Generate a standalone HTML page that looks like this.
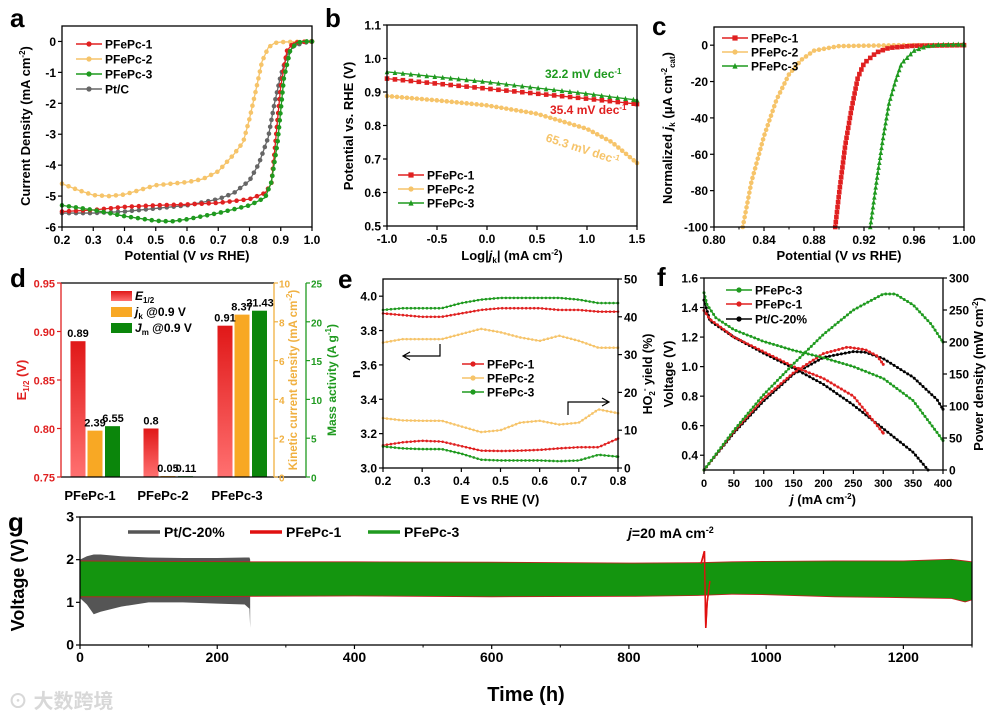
<!DOCTYPE html>
<html><head><meta charset="utf-8">
<style>
html,body{margin:0;padding:0;background:#fff;}
svg{display:block;font-family:"Liberation Sans","Noto Sans CJK SC",sans-serif;font-weight:bold;}
</style></head>
<body>
<svg id="fig" width="995" height="719" viewBox="0 0 995 719" xmlns="http://www.w3.org/2000/svg"></svg>
<script>
// ---------- DATA ----------
const aX1=[0.2,0.3,0.4,0.5,0.6,0.7,0.8,0.85,0.87,0.88,0.89,0.9,0.92,0.94,0.96,1.0];
const aY1=[-5.5,-5.45,-5.35,-5.3,-5.27,-5.22,-5.1,-4.9,-4.6,-3.6,-2.5,-1.45,-0.3,-0.05,-0.02,0];
const aX2=[0.2,0.25,0.3,0.35,0.4,0.45,0.5,0.6,0.65,0.7,0.75,0.78,0.8,0.82,0.84,0.86,0.88,0.9,1.0];
const aY2=[-4.6,-4.8,-4.97,-5.0,-4.95,-4.8,-4.65,-4.55,-4.45,-4.2,-3.65,-3.25,-2.5,-1.6,-0.65,-0.2,-0.05,-0.02,0];
const aX3=[0.2,0.3,0.4,0.5,0.55,0.6,0.7,0.8,0.85,0.87,0.89,0.91,0.93,0.95,0.97,1.0];
const aY3=[-5.3,-5.45,-5.65,-5.8,-5.82,-5.75,-5.55,-5.3,-5.05,-4.55,-3.25,-1.2,-0.3,-0.05,0,0];
const aX4=[0.2,0.3,0.4,0.5,0.6,0.7,0.75,0.8,0.83,0.86,0.88,0.9,0.92,0.94,0.97,1.0];
const aY4=[-5.55,-5.55,-5.5,-5.4,-5.3,-5.1,-4.9,-4.5,-3.95,-3.1,-2.0,-1.1,-0.45,-0.15,-0.05,0];
const bX=[-1.0,-0.5,0.0,0.5,1.0,1.25,1.5];
const bY1=[0.94,0.925,0.91,0.895,0.88,0.872,0.864];
const bY2=[0.888,0.875,0.86,0.835,0.79,0.75,0.688];
const bY3=[0.96,0.945,0.93,0.912,0.895,0.885,0.876];
const cX1=[0.897,0.9,0.905,0.91,0.915,0.92,0.93,0.94,0.96,1.0];
const cY1=[-100,-82,-55,-35,-18,-10,-4,-1.5,-0.3,0];
const cX2=[0.823,0.83,0.84,0.85,0.86,0.87,0.88,0.9,0.95,1.0];
const cY2=[-100,-75,-50,-30,-16,-8,-3,-0.5,0,0];
const cX3=[0.925,0.93,0.935,0.94,0.945,0.95,0.96,0.97,0.98,1.0];
const cY3=[-100,-75,-52,-32,-20,-10,-3,-0.5,0.3,0.5];
const dCats=["PFePc-1","PFePc-2","PFePc-3"];
const dE=[0.89,0.80,0.906];
const dEl=["0.89","0.8","0.91"];
const dJk=[2.39,0.05,8.37];
const dJkl=["2.39","0.05","8.37"];
const dJm=[6.55,0.11,21.43];
const dJml=["6.55","0.11","21.43"];
const eX=[0.2,0.25,0.3,0.35,0.4,0.45,0.5,0.55,0.6,0.65,0.7,0.75,0.8];
const eN1=[3.90,3.89,3.88,3.88,3.90,3.92,3.93,3.93,3.93,3.92,3.92,3.91,3.91];
const eN2=[3.73,3.75,3.75,3.75,3.78,3.81,3.79,3.76,3.74,3.77,3.74,3.70,3.70];
const eN3=[3.92,3.93,3.93,3.93,3.96,3.98,3.99,3.99,3.99,3.99,3.98,3.96,3.96];
const eH1=[6,6.8,7.2,7,5.8,4.6,4.5,4.6,4.8,5.2,5.5,5.5,7.8];
const eH2=[13.2,12.6,12.5,12.5,11,9.5,10,12,12.5,11.5,12,15.5,14.5];
const eH3=[5.7,5.2,5,5,3.8,2.2,2,2,2,1.8,2,3.5,3];
const fX3=[0,5,20,50,100,150,200,250,300,350,400];
const fV3=[1.5,1.42,1.33,1.25,1.17,1.11,1.06,1.0,0.92,0.77,0.5];
const fX1=[0,10,50,100,150,200,250,300];
const fV1=[1.38,1.32,1.2,1.1,1.0,0.92,0.8,0.55];
const fXp=[0,10,50,100,150,200,250,300,350,375];
const fVp=[1.45,1.31,1.2,1.09,0.99,0.88,0.74,0.58,0.42,0.3];
const fPX3=[0,50,100,150,200,250,300,320,350,380,400];
const fP3=[0,62,118,166,212,250,275,275,258,228,200];
const fPX1=[0,50,100,150,200,240,270,290,300];
const fP1=[0,60,112,152,182,192,188,178,165];
const fPXp=[0,50,100,150,200,250,270,300,350,390,400];
const fPp=[0,58,108,150,176,185,184,174,145,110,95];
const gPtT=[0,10,20,30,60,100,150,200,240,247,248];
const gPtHi=[2.0,2.08,2.12,2.12,2.08,2.05,2.04,2.04,2.05,2.05,2.0];
const gPtLo=[1.1,0.95,0.72,0.78,0.9,1.0,1.0,0.97,0.95,0.85,0.4];
const gGT=[0,100,250,400,600,800,900,950,1000,1100,1200,1270,1290,1300];
const gGHi=[1.98,1.97,1.96,1.96,1.95,1.93,1.94,1.96,1.97,1.98,1.98,2.02,1.98,1.96];
const gGLo=[1.12,1.12,1.13,1.14,1.12,1.13,1.15,1.18,1.17,1.12,1.1,1.08,1.0,1.05];
const gRspikeT=[905,910,912,914,918];
const gRspikeV=[1.9,2.2,0.4,1.0,1.5];

// ---------- HELPERS ----------
const NS="http://www.w3.org/2000/svg";
const svg=document.getElementById('fig');
function mk(tag,attrs,parent){const e=document.createElementNS(NS,tag);for(const k in attrs)e.setAttribute(k,attrs[k]);(parent||svg).appendChild(e);return e;}
function sc(d0,d1,p0,p1){return v=>p0+(v-d0)/(d1-d0)*(p1-p0);}
function txt(x,y,s,o,name){o=o||{};const t=mk('text',{x:x,y:y,'font-size':o.fs||12,'text-anchor':o.a||'middle',fill:o.c||'#000'});
 if(o.rot)t.setAttribute('transform','rotate(-90 '+x+' '+y+')');
 if(o.it)t.setAttribute('font-style','italic');
 t.innerHTML=s;
 
 
 return t;}
function frame(L,R,T,B,name){const g=mk('rect',{x:L,y:T,width:R-L,height:B-T,fill:'none',stroke:'#000','stroke-width':1.3});
 
 }
function xTicks(xs,vals,labels,B,T,name,fs,minor){vals.forEach((v,i)=>{const x=xs(v);
 const l=mk('line',{x1:x,x2:x,y1:B,y2:B+4,stroke:'#000','stroke-width':1.2});
 
 
 txt(x,B+17,labels[i],{fs:fs||12},name+'-tick-label');});
 if(minor)minor.forEach(v=>{const x=xs(v);const l=mk('line',{x1:x,x2:x,y1:B,y2:B+2.5,stroke:'#000','stroke-width':1});
 
 });}
function yTicks(ys,vals,labels,X,dir,name,col,fs,off){off=off||6;vals.forEach((v,i)=>{const y=ys(v);
 const l=mk('line',{x1:X,x2:X+dir*4,y1:y,y2:y,stroke:col||'#000','stroke-width':1.2});
 
 
 txt(dir<0?X-off:X+off,y+4.5,labels[i],{fs:fs||12,a:dir<0?'end':'start',c:col||'#000'},name+'-tick-label');});}
function marker(x,y,shape,col,r,name){let m;
 if(shape==='sq')m=mk('rect',{x:x-r,y:y-r,width:2*r,height:2*r,fill:col});
 else if(shape==='tri')m=mk('polygon',{points:(x)+','+(y-r-0.5)+' '+(x-r)+','+(y+r)+' '+(x+r)+','+(y+r),fill:col});
 else m=mk('circle',{cx:x,cy:y,r:r,fill:col});
 
 }
function series(xs,ys,X,Y,col,shape,name,w,step,r){const pts=X.map((v,i)=>[xs(v),ys(Y[i])]);
 const p=mk('polyline',{points:pts.map(p=>p.join(',')).join(' '),fill:'none',stroke:col,'stroke-width':w||1.3});
 
 
 if(!shape)return;
 let acc=0;step=step||7;
 for(let i=0;i<pts.length-1;i++){const [x0,y0]=pts[i],[x1,y1]=pts[i+1];const L=Math.hypot(x1-x0,y1-y0);
  let t=acc;while(t<L){marker(x0+(x1-x0)*t/L,y0+(y1-y0)*t/L,shape,col,r||2.3,name+'-marker');t+=step;}acc=t-L;}
 marker(pts[pts.length-1][0],pts[pts.length-1][1],shape,col,r||2.3,name+'-marker');}
function legendItem(x,y,col,shape,label,name,len){len=len||26;const l=mk('line',{x1:x,x2:x+len,y1:y,y2:y,stroke:col,'stroke-width':1.5});
 
 
 if(shape)marker(x+len/2,y,shape,col,2.6,name+'-swatch-marker');
 txt(x+len+3,y+4.5,label,{a:'start',fs:12},name+'-label');}
function panelLetter(x,y,s){txt(x,y,s,{fs:26,a:'start'},'panel-label-'+s);}
const RED='#e02020',YEL='#f6c46a',GRN='#1f9a1f',GRY='#666666';

// ---------- PANEL a ----------
(function(){const L=62,R=312,T=26,B=227;const xs=sc(0.2,1.0,L,R),ys=sc(-6,0.5,B,T);
 series(xs,ys,aX2,aY2,YEL,'circ','a-pfepc2');
 series(xs,ys,aX4,aY4,GRY,'circ','a-ptc');
 series(xs,ys,aX1,aY1,RED,'circ','a-pfepc1');
 series(xs,ys,aX3,aY3,GRN,'circ','a-pfepc3');
 frame(L,R,T,B,'a-plot-frame');
 xTicks(xs,[0.2,0.3,0.4,0.5,0.6,0.7,0.8,0.9,1.0],["0.2","0.3","0.4","0.5","0.6","0.7","0.8","0.9","1.0"],B,T,'a-x');
 yTicks(ys,[0,-1,-2,-3,-4,-5,-6],["0","-1","-2","-3","-4","-5","-6"],L,-1,'a-y');
 txt(187,260,'Potential (V <tspan font-style="italic">vs</tspan> RHE)',{fs:13},'a-x-axis-title');
 txt(30,126,'Current Density (mA cm<tspan dy="-5" font-size="8">-2</tspan><tspan dy="5">)</tspan>',{fs:13,rot:1},'a-y-axis-title');
 legendItem(76,44,RED,'circ','PFePc-1','a-legend-pfepc1');
 legendItem(76,59,YEL,'circ','PFePc-2','a-legend-pfepc2');
 legendItem(76,74,GRN,'circ','PFePc-3','a-legend-pfepc3');
 legendItem(76,89,GRY,'circ','Pt/C','a-legend-ptc');
 panelLetter(10,27,'a');})();

// ---------- PANEL b ----------
(function(){const L=387,R=637,T=25,B=226;const xs=sc(-1,1.5,L,R),ys=sc(0.5,1.1,B,T);
 series(xs,ys,bX,bY2,YEL,'circ','b-pfepc2',1.3,5);
 series(xs,ys,bX,bY1,RED,'sq','b-pfepc1',1.3,8);
 series(xs,ys,bX,bY3,GRN,'tri','b-pfepc3',1.3,8);
 frame(L,R,T,B,'b-plot-frame');
 xTicks(xs,[-1,-0.5,0,0.5,1,1.5],["-1.0","-0.5","0.0","0.5","1.0","1.5"],B,T,'b-x');
 yTicks(ys,[0.5,0.6,0.7,0.8,0.9,1.0,1.1],["0.5","0.6","0.7","0.8","0.9","1.0","1.1"],L,-1,'b-y');
 txt(512,260,'Log|<tspan font-style="italic">j</tspan><tspan dy="3" font-size="8">k</tspan><tspan dy="-3">| (mA cm</tspan><tspan dy="-5" font-size="8">-2</tspan><tspan dy="5">)</tspan>',{fs:13},'b-x-axis-title');
 txt(353,126,'Potential vs. RHE (V)',{fs:13,rot:1},'b-y-axis-title');
 txt(545,78,'32.2 mV dec<tspan dy="-4" font-size="8">-1</tspan>',{fs:12,a:'start',c:GRN},'b-tafel-pfepc3');
 txt(550,114,'35.4 mV dec<tspan dy="-4" font-size="8">-1</tspan>',{fs:12,a:'start',c:RED},'b-tafel-pfepc1');
 const t=txt(545,141,'65.3 mV dec<tspan dy="-4" font-size="8">-1</tspan>',{fs:12,a:'start',c:YEL},'b-tafel-pfepc2');t.setAttribute('transform','rotate(18 545 141)');
 legendItem(398,175,RED,'sq','PFePc-1','b-legend-pfepc1');
 legendItem(398,189,YEL,'circ','PFePc-2','b-legend-pfepc2');
 legendItem(398,203,GRN,'tri','PFePc-3','b-legend-pfepc3');
 panelLetter(325,27,'b');})();

// ---------- PANEL c ----------
(function(){const L=714,R=964,T=27,B=227;const xs=sc(0.8,1.0,L,R),ys=sc(-100,10,B,T);
 series(xs,ys,cX2,cY2,YEL,'circ','c-pfepc2',1.3,5);
 series(xs,ys,cX1,cY1,RED,'sq','c-pfepc1',1.3,5);
 series(xs,ys,cX3,cY3,GRN,'tri','c-pfepc3',1.3,5);
 frame(L,R,T,B,'c-plot-frame');
 xTicks(xs,[0.8,0.84,0.88,0.92,0.96,1.0],["0.80","0.84","0.88","0.92","0.96","1.00"],B,T,'c-x',12,[0.82,0.86,0.9,0.94,0.98]);
 yTicks(ys,[0,-20,-40,-60,-80,-100],["0","-20","-40","-60","-80","-100"],L,-1,'c-y');
 txt(839,260,'Potential (V <tspan font-style="italic">vs</tspan> RHE)',{fs:13},'c-x-axis-title');
 txt(672,128,'Normalized <tspan font-style="italic">j</tspan><tspan dy="3" font-size="8">k</tspan><tspan dy="-3"> (μA cm</tspan><tspan dy="-5" font-size="8">-2</tspan><tspan dy="8" font-size="8">cat</tspan><tspan dy="-3">)</tspan>',{fs:13,rot:1},'c-y-axis-title');
 legendItem(722,38,RED,'sq','PFePc-1','c-legend-pfepc1');
 legendItem(722,52,YEL,'circ','PFePc-2','c-legend-pfepc2');
 legendItem(722,66,GRN,'tri','PFePc-3','c-legend-pfepc3');
 panelLetter(652,35,'c');})();

// ---------- PANEL d ----------
(function(){const L=61,R=274,T=283,B=477,G=306;const yE=sc(0.75,0.95,B,T),yK=sc(0,10,B,T),yM=sc(0,25,B,T);
 const defs=mk('defs',{});
 const lg=mk('linearGradient',{id:'redg',x1:0,y1:0,x2:0,y2:1},defs);
 mk('stop',{offset:'0','stop-color':'#e01818'},lg);mk('stop',{offset:'1','stop-color':'#ff7070'},lg);
 const cx=[90,163,237];const bw=15;
 dCats.forEach((c,i)=>{const x=cx[i];
  const b1=mk('rect',{x:x-19.5,y:yE(dE[i]),width:bw,height:B-yE(dE[i]),fill:'url(#redg)'});
  
  const b2=mk('rect',{x:x-2.5,y:yK(dJk[i]),width:bw,height:B-yK(dJk[i]),fill:'#f8a824'});
  
  const b3=mk('rect',{x:x+15,y:yM(dJm[i]),width:bw,height:B-yM(dJm[i]),fill:'#0b860b'});
  
  txt(x-12,yE(dE[i])-4,dEl[i],{fs:11},'value-e12-'+c);
  txt(x+5,yK(dJk[i])-4,dJkl[i],{fs:11},'value-jk-'+c);
  txt(x+23,yM(dJm[i])-4,dJml[i],{fs:11},'value-jm-'+c);
  txt(x,500,c,{fs:13},'d-category-'+c);});
 const ln=(x1,y1,x2,y2,c,n)=>{const l=mk('line',{x1,y1,x2,y2,stroke:c,'stroke-width':1.3});};
 ln(L,T,R,T,'#000','d-top-axis');ln(L,B,G,B,'#000','d-bottom-axis');
 ln(L,T,L,B,RED,'d-left-axis');ln(R,T,R,B,'#f0b040','d-right-axis-jk');ln(G,T,G,B,GRN,'d-right-axis-jm');
 yTicks(yE,[0.75,0.8,0.85,0.9,0.95],["0.75","0.80","0.85","0.90","0.95"],L,-1,'d-y-e12',RED,11);
 yTicks(yK,[0,2,4,6,8,10],["0","2","4","6","8","10"],R,1,'d-y-jk','#f0b040',10,5);
 yTicks(yM,[0,5,10,15,20,25],["0","5","10","15","20","25"],G,1,'d-y-jm',GRN,10,5);
 txt(26,380,'E<tspan dy="3" font-size="8">1/2</tspan><tspan dy="-3"> (V)</tspan>',{fs:13,rot:1,c:RED},'d-y-axis-title-e12');
 txt(297,380,'Kinetic current density (mA cm<tspan dy="-5" font-size="8">-2</tspan><tspan dy="5">)</tspan>',{fs:11.5,rot:1,c:'#f0b040'},'d-y-axis-title-jk');
 txt(336,380,'Mass activity (A g<tspan dy="-5" font-size="8">-1</tspan><tspan dy="5">)</tspan>',{fs:12,rot:1,c:GRN},'d-y-axis-title-jm');
 const lgd=[['url(#redg)','<tspan font-style="italic">E</tspan><tspan dy="3" font-size="8">1/2</tspan>','e12'],['#f8a824','<tspan font-style="italic">j</tspan><tspan dy="3" font-size="8">k</tspan><tspan dy="-3"> @0.9 V</tspan>','jk'],['#0b860b','<tspan font-style="italic">J</tspan><tspan dy="3" font-size="8">m</tspan><tspan dy="-3"> @0.9 V</tspan>','jm']];
 lgd.forEach((d,i)=>{const r=mk('rect',{x:111,y:291+i*16,width:21,height:10,fill:d[0]});
  
  txt(135,300+i*16,d[1],{fs:12,a:'start'},'d-legend-'+d[2]+'-label');});
 panelLetter(10,287,'d');})();

// ---------- PANEL e ----------
(function(){const L=383,R=618,T=279,B=468;const xs=sc(0.2,0.8,L,R),ys=sc(3.0,4.1,B,T),yr=sc(0,50,B,T);
 series(xs,ys,eX,eN2,YEL,'circ','e-n-pfepc2',1.2,4,1.3);
 series(xs,ys,eX,eN1,RED,'circ','e-n-pfepc1',1.2,4,1.3);
 series(xs,ys,eX,eN3,GRN,'circ','e-n-pfepc3',1.2,4,1.3);
 series(xs,yr,eX,eH2,YEL,'circ','e-yield-pfepc2',1.2,4,1.3);
 series(xs,yr,eX,eH1,RED,'circ','e-yield-pfepc1',1.2,4,1.3);
 series(xs,yr,eX,eH3,GRN,'circ','e-yield-pfepc3',1.2,4,1.3);
 frame(L,R,T,B,'e-plot-frame');
 xTicks(xs,[0.2,0.3,0.4,0.5,0.6,0.7,0.8],["0.2","0.3","0.4","0.5","0.6","0.7","0.8"],B,T,'e-x');
 yTicks(ys,[3.0,3.2,3.4,3.6,3.8,4.0],["3.0","3.2","3.4","3.6","3.8","4.0"],L,-1,'e-y');
 yTicks(yr,[0,10,20,30,40,50],["0","10","20","30","40","50"],R,1,'e-y-right');
 txt(500,504,'E vs RHE (V)',{fs:13},'e-x-axis-title');
 txt(360,374,'n',{fs:13,rot:1},'e-y-axis-title');
 txt(652,374,'HO<tspan dy="3" font-size="8">2</tspan><tspan dy="-8" font-size="8">-</tspan><tspan dy="5"> yield (%)</tspan>',{fs:12.5,rot:1},'e-y-right-axis-title');
 const arr=(d,n)=>{const p=mk('path',{d:d,fill:'none',stroke:'#000','stroke-width':1.2});};
 arr('M440,344 L440,356 L404,356 M410,352 L403,356 L410,360','e-arrow-left');
 arr('M568,415 L568,402 L608,402 M602,398 L609,402 L602,406','e-arrow-right');
 legendItem(462,364,RED,'circ','PFePc-1','e-legend-pfepc1',22);
 legendItem(462,378,YEL,'circ','PFePc-2','e-legend-pfepc2',22);
 legendItem(462,392,GRN,'circ','PFePc-3','e-legend-pfepc3',22);
 panelLetter(338,288,'e');})();

// ---------- PANEL f ----------
(function(){const L=704,R=943,T=278,B=470;const xs=sc(0,400,L,R),ys=sc(0.3,1.6,B,T),yr=sc(0,300,B,T);
 series(xs,ys,fXp,fVp,'#000','circ','f-v-ptc',1.2,4,1.5);
 series(xs,yr,fPXp,fPp,'#000','circ','f-p-ptc',1.2,4,1.5);
 series(xs,ys,fX1,fV1,RED,'circ','f-v-pfepc1',1.2,4,1.5);
 series(xs,yr,fPX1,fP1,RED,'circ','f-p-pfepc1',1.2,4,1.5);
 series(xs,ys,fX3,fV3,GRN,'circ','f-v-pfepc3',1.2,4,1.5);
 series(xs,yr,fPX3,fP3,GRN,'circ','f-p-pfepc3',1.2,4,1.5);
 frame(L,R,T,B,'f-plot-frame');
 xTicks(xs,[0,50,100,150,200,250,300,350,400],["0","50","100","150","200","250","300","350","400"],B,T,'f-x',11);
 yTicks(ys,[0.4,0.6,0.8,1.0,1.2,1.4,1.6],["0.4","0.6","0.8","1.0","1.2","1.4","1.6"],L,-1,'f-y');
 yTicks(yr,[0,50,100,150,200,250,300],["0","50","100","150","200","250","300"],R,1,'f-y-right');
 txt(823,504,'<tspan font-style="italic">j</tspan> (mA cm<tspan dy="-5" font-size="8">-2</tspan><tspan dy="5">)</tspan>',{fs:13},'f-x-axis-title');
 txt(673,374,'Voltage (V)',{fs:13,rot:1},'f-y-axis-title');
 txt(983,374,'Power density (mW cm<tspan dy="-5" font-size="8">-2</tspan><tspan dy="5">)</tspan>',{fs:13,rot:1},'f-y-right-axis-title');
 legendItem(726,290,GRN,'circ','PFePc-3','f-legend-pfepc3');
 legendItem(726,304,RED,'circ','PFePc-1','f-legend-pfepc1');
 legendItem(726,319,'#000','circ','Pt/C-20%','f-legend-ptc');
 panelLetter(657,286,'f');})();

// ---------- PANEL g ----------
(function(){const L=80,R=972,T=517,B=645;const xs=sc(0,1300,L,R),ys=sc(0,3,B,T);
 const band=(X,Hi,Lo,col,n)=>{const pts=X.map((v,i)=>xs(v)+','+ys(Hi[i])).concat(X.slice().reverse().map((v,j)=>xs(v)+','+ys(Lo[X.length-1-j])));
  const p=mk('polygon',{points:pts.join(' '),fill:col});};
 band(gPtT,gPtHi,gPtLo,'#555555','g-band-ptc');
 band(gGT,gGHi,gGLo,'#c02020','g-band-pfepc1');
 const sp=mk('polyline',{points:gRspikeT.map((v,i)=>xs(v)+','+ys(gRspikeV[i])).join(' '),fill:'none',stroke:'#e01010','stroke-width':1.6});
 
 const gg=gGT.map((v,i)=>xs(v)+','+ys(gGHi[i]-0.02));const gl=gGT.slice().reverse().map((v,j)=>xs(v)+','+ys(gGLo[gGT.length-1-j]+0.02));
 const gp=mk('polygon',{points:gg.concat(gl).join(' '),fill:'#14950f'});
 const sp2=mk('polyline',{points:gRspikeT.map((v,i)=>xs(v)+','+ys(gRspikeV[i])).join(' '),fill:'none',stroke:'#e01010','stroke-width':1.4});
 
 frame(L,R,T,B,'g-plot-frame');
 xTicks(xs,[0,200,400,600,800,1000,1200],["0","200","400","600","800","1000","1200"],B,T,'g-x',14,[100,300,500,700,900,1100,1300]);
 yTicks(ys,[0,1,2,3],["0","1","2","3"],L,-1,'g-y',null,14);
 txt(526,701,'Time (h)',{fs:20},'g-x-axis-title');
 txt(24,585,'Voltage (V)',{fs:18,rot:1},'g-y-axis-title');
 const li=(x,c,l,n)=>{const r=mk('line',{x1:x,x2:x+32,y1:532,y2:532,stroke:c,'stroke-width':3.5});txt(x+36,537,l,{fs:14,a:'start'},n+'-label');};
 li(128,'#555555','Pt/C-20%','g-legend-ptc');li(250,'#e01010','PFePc-1','g-legend-pfepc1');li(368,GRN,'PFePc-3','g-legend-pfepc3');
 txt(628,538,'<tspan font-style="italic">j</tspan>=20 mA cm<tspan dy="-5" font-size="9">-2</tspan>',{fs:14,a:'start'},'g-current-annotation');
 panelLetter(8,531,'g');})();

txt(8,708,'⊙ 大数跨境',{fs:20,a:'start',c:'#d8d8d8'},'watermark');
</script>
</body></html>
